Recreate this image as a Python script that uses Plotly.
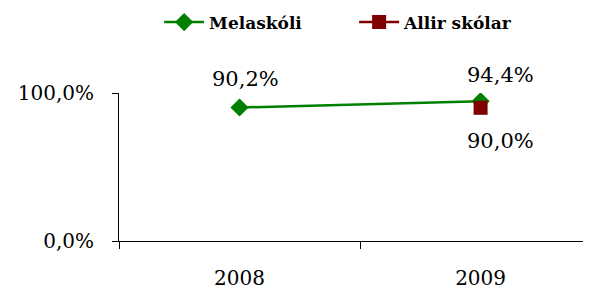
import plotly.graph_objects as go

years = ["2008", "2009"]
melaskoli = [90.2, 94.4]
allir = [None, 90.0]
y_ticks = [0, 100]
y_tick_labels = ["0,0%", "100,0%"]

def fmt(v):
    return f"{v:.1f}".replace(".", ",") + "%"

font_family = "DejaVu Serif"
xpos = list(range(len(years)))              # category index positions
x_bounds = [i - 0.5 for i in range(len(years) + 1)]  # category boundaries

fig = go.Figure()
fig.add_trace(go.Scatter(
    x=xpos, y=melaskoli, name="Melaskóli", mode="lines+markers",
    line=dict(color="#008000", width=2.5),
    marker=dict(symbol="diamond", size=14, color="#008000"),
))
fig.add_trace(go.Scatter(
    x=xpos, y=allir, name="Allir skólar", mode="lines+markers",
    line=dict(color="#800000", width=2.5),
    marker=dict(symbol="square", size=14, color="#800000"),
))

# data labels
label_shifts_m = [(6, 29), (20, 26)]
for xv, yv, (dx, dy) in zip(xpos, melaskoli, label_shifts_m):
    fig.add_annotation(x=xv, y=yv, xref="x", yref="y", text=fmt(yv), showarrow=False,
                       xshift=dx, yshift=dy,
                       font=dict(family=font_family, size=21, color="black"))
for xv, yv in zip(xpos, allir):
    if yv is None:
        continue
    fig.add_annotation(x=xv, y=yv, xref="x", yref="y", text=fmt(yv), showarrow=False,
                       xshift=20, yshift=-33,
                       font=dict(family=font_family, size=21, color="black"))

# page body has an 8px margin, so the figure is 8px smaller than the window
fig.update_layout(
    width=583, height=283,
    margin=dict(l=111, r=0, t=85, b=50, autoexpand=False),
    paper_bgcolor="white", plot_bgcolor="white",
    font=dict(family=font_family, size=20, color="black"),
    showlegend=True,
    legend=dict(orientation="h", x=0.085, xref="paper", xanchor="left",
                y=1.476, yref="paper", yanchor="middle",
                font=dict(family=font_family, size=17, color="black", weight="bold"),
                itemwidth=40, entrywidth=140, entrywidthmode="pixels"),
)
fig.update_xaxes(
    type="linear", range=[-0.5, 1.458],
    tickvals=xpos, ticktext=years, ticks="",
    minor=dict(tickvals=x_bounds, ticks="outside", ticklen=7, tickcolor="black",
               showgrid=False),
    showline=True, linecolor="black", linewidth=1,
    showgrid=False, zeroline=False, automargin=False,
    tickfont=dict(family=font_family, size=20, color="black"),
    ticklabelstandoff=19,
)
fig.update_yaxes(
    range=[0, 100], tickvals=y_ticks, ticktext=y_tick_labels,
    showline=True, linecolor="black", linewidth=1,
    ticks="outside", ticklen=6, tickcolor="black",
    showgrid=False, zeroline=False, automargin=False,
    tickfont=dict(family=font_family, size=20, color="black"),
    ticklabelstandoff=14,
)

fig.write_html("out.html")
